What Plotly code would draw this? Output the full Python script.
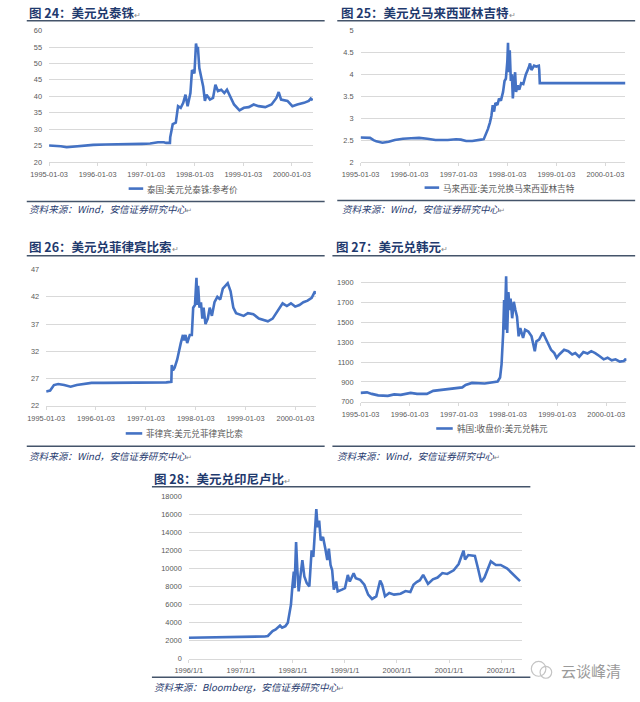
import plotly.graph_objects as go

W, H = 640, 702

# ---------------- data ----------------
thb_dates = ["1995-01-03", "1995-02-15", "1995-04-01", "1995-05-15", "1995-06-15", "1995-08-01",
             "1995-10-01", "1995-12-01", "1996-03-01", "1996-06-01", "1996-09-01", "1996-12-01",
             "1997-02-01", "1997-04-01", "1997-05-15", "1997-06-01", "1997-06-30", "1997-07-02",
             "1997-07-21", "1997-08-13", "1997-08-30", "1997-09-19", "1997-10-08", "1997-10-25",
             "1997-11-10", "1997-12-01", "1997-12-13", "1997-12-31", "1998-01-05", "1998-01-12",
             "1998-01-18", "1998-01-26", "1998-02-06", "1998-02-24", "1998-03-07", "1998-03-20",
             "1998-04-01", "1998-04-27", "1998-05-20", "1998-06-07", "1998-06-26", "1998-07-21",
             "1998-08-13", "1998-09-02", "1998-10-02", "1998-10-25", "1998-12-05", "1999-01-07",
             "1999-02-13", "1999-03-22", "1999-04-28", "1999-06-17", "1999-08-03", "1999-09-09",
             "1999-09-26", "1999-10-14", "1999-12-01", "2000-01-07", "2000-02-13", "2000-04-03",
             "2000-05-09", "2000-05-24", "2000-06-08"]
thb_values = [25.0, 25.0, 24.8, 24.5, 24.6, 24.8,
              25.1, 25.2, 25.3, 25.3, 25.3, 25.5,
              25.6, 26.0, 26.0, 25.8, 25.8, 27.5,
              31.5, 32.0, 37.0, 36.5, 38.0, 40.5,
              37.0, 41.0, 48.0, 47.0, 50.6, 56.1,
              54.6, 55.1, 48.6, 45.0, 43.0, 38.6,
              40.5, 39.0, 39.5, 43.5, 41.6, 42.0,
              41.0, 42.0, 39.5, 37.5, 35.7, 36.5,
              36.7, 37.5, 37.0, 36.7, 37.5, 39.5,
              41.3, 39.0, 38.6, 37.0, 37.5, 38.0,
              38.6, 39.3, 38.8]

myr_dates = ["1995-01-03", "1995-03-15", "1995-04-10", "1995-05-01", "1995-06-15", "1995-08-01",
             "1995-09-15", "1995-11-15", "1996-01-15", "1996-03-15", "1996-05-15", "1996-07-15",
             "1996-10-15", "1996-12-15", "1997-01-20", "1997-03-01", "1997-04-15", "1997-05-15",
             "1997-06-20", "1997-07-10", "1997-07-25", "1997-08-10", "1997-08-25", "1997-09-05",
             "1997-09-15", "1997-09-25", "1997-10-05", "1997-10-20", "1997-11-01", "1997-11-15",
             "1997-12-01", "1997-12-12", "1997-12-22", "1998-01-02", "1998-01-07", "1998-01-12",
             "1998-01-20", "1998-01-28", "1998-02-05", "1998-02-12", "1998-02-20", "1998-03-01",
             "1998-03-08", "1998-03-20", "1998-04-01", "1998-04-15", "1998-05-01", "1998-05-20",
             "1998-06-10", "1998-06-20", "1998-07-01", "1998-07-20", "1998-08-05", "1998-08-25",
             "1998-08-28", "1998-09-01", "2000-06-01"]
myr_values = [2.56, 2.55, 2.50, 2.47, 2.44, 2.46,
              2.50, 2.53, 2.54, 2.55, 2.53, 2.50,
              2.50, 2.52, 2.51, 2.48, 2.48, 2.50,
              2.51, 2.52, 2.62, 2.75, 2.90, 3.05,
              3.30, 3.15, 3.35, 3.30, 3.45, 3.40,
              3.60, 3.85, 3.90, 4.30, 4.72, 4.05,
              4.55, 3.85, 4.00, 3.45, 3.80, 4.05,
              3.60, 3.75, 3.65, 3.80, 3.78, 4.00,
              4.15, 4.25, 4.10, 4.20, 4.18, 4.20,
              4.10, 3.80, 3.80]

php_dates = ["1995-01-03", "1995-02-01", "1995-03-01", "1995-04-01", "1995-05-15", "1995-07-01",
             "1995-08-15", "1995-10-01", "1995-12-01", "1996-03-01", "1996-06-01", "1996-09-01",
             "1996-12-01", "1997-03-01", "1997-06-01", "1997-07-08", "1997-07-11", "1997-07-20",
             "1997-08-01", "1997-08-20", "1997-09-01", "1997-09-15", "1997-10-01", "1997-10-10",
             "1997-10-20", "1997-11-01", "1997-11-20", "1997-12-05", "1997-12-15", "1997-12-28",
             "1998-01-08", "1998-01-15", "1998-01-20", "1998-01-30", "1998-02-10", "1998-02-20",
             "1998-03-01", "1998-03-15", "1998-04-01", "1998-04-15", "1998-05-01", "1998-05-20",
             "1998-06-10", "1998-07-01", "1998-07-20", "1998-08-10", "1998-08-25", "1998-09-15",
             "1998-10-05", "1998-10-25", "1998-11-20", "1998-12-20", "1999-01-20", "1999-03-01",
             "1999-04-10", "1999-05-10", "1999-06-15", "1999-07-20", "1999-08-15", "1999-09-10",
             "1999-10-01", "1999-11-01", "1999-12-01", "2000-01-01", "2000-02-01", "2000-03-01",
             "2000-04-01", "2000-05-01", "2000-05-25", "2000-06-01"]
php_values = [24.6, 24.8, 25.8, 26.0, 25.8, 25.5,
              25.8, 26.0, 26.2, 26.2, 26.2, 26.2,
              26.2, 26.3, 26.3, 26.4, 29.5, 28.5,
              29.0, 30.5, 32.0, 33.5, 35.0, 34.0,
              35.0, 33.5, 35.0, 35.0, 40.0, 40.5,
              45.5, 40.5, 44.0, 40.0, 41.0, 38.0,
              40.0, 37.0, 38.0, 40.0, 38.5, 41.0,
              42.0, 41.5, 43.5, 44.0, 44.5, 43.0,
              40.0, 39.0, 38.8, 38.5, 39.0, 38.8,
              38.0, 37.8, 37.5, 38.0, 39.0, 40.0,
              40.8, 40.3, 40.8, 40.2, 40.5, 41.0,
              41.3, 41.8, 43.0, 42.5]

krw_dates = ["1995-01-03", "1995-02-20", "1995-03-27", "1995-05-14", "1995-07-25", "1995-09-10",
             "1995-10-29", "1996-01-10", "1996-02-27", "1996-05-10", "1996-06-26", "1996-09-07",
             "1996-11-19", "1997-01-28", "1997-02-22", "1997-04-10", "1997-07-14", "1997-10-18",
             "1997-11-05", "1997-11-16", "1997-11-28", "1997-12-05", "1997-12-09", "1997-12-20",
             "1997-12-28", "1998-01-06", "1998-01-15", "1998-01-22", "1998-02-03", "1998-02-15",
             "1998-02-27", "1998-03-11", "1998-03-23", "1998-04-04", "1998-04-25", "1998-05-10",
             "1998-06-03", "1998-06-27", "1998-07-21", "1998-08-02", "1998-08-22", "1998-09-19",
             "1998-10-08", "1998-11-02", "1998-11-19", "1998-12-13", "1998-12-30", "1999-01-19",
             "1999-02-24", "1999-03-27", "1999-04-25", "1999-05-18", "1999-06-16", "1999-07-17",
             "1999-08-17", "1999-09-14", "1999-10-13", "1999-11-13", "1999-12-15", "2000-01-13",
             "2000-02-13", "2000-03-12", "2000-04-13", "2000-05-12", "2000-05-27", "2000-06-01"]
krw_values = [790, 795, 780, 765, 760, 775,
              770, 790, 780, 780, 810, 820,
              830, 845, 870, 890, 885, 905,
              945, 1077, 1391, 1722, 1424, 1962,
              1391, 1804, 1622, 1738, 1540, 1705,
              1622, 1556, 1358, 1441, 1342, 1424,
              1407, 1358, 1209, 1308, 1325, 1397,
              1342, 1272, 1223, 1190, 1143, 1176,
              1223, 1209, 1176, 1190, 1153, 1200,
              1186, 1209, 1190, 1160, 1127, 1143,
              1117, 1127, 1104, 1110, 1133, 1110]

idr_dates = ["1996-01-01", "1996-04-01", "1996-08-01", "1996-12-01", "1997-03-01", "1997-06-17",
             "1997-07-09", "1997-08-11", "1997-09-02", "1997-10-02", "1997-10-17", "1997-11-09",
             "1997-11-26", "1997-12-09", "1997-12-18", "1997-12-28", "1998-01-07", "1998-01-12",
             "1998-01-23", "1998-02-01", "1998-02-10", "1998-02-22", "1998-03-08", "1998-03-22",
             "1998-04-08", "1998-04-26", "1998-05-12", "1998-05-24", "1998-06-04", "1998-06-14",
             "1998-06-23", "1998-07-04", "1998-07-15", "1998-07-31", "1998-08-16", "1998-08-30",
             "1998-09-10", "1998-09-22", "1998-10-03", "1998-10-15", "1998-10-31", "1998-11-11",
             "1998-12-11", "1999-01-01", "1999-01-21", "1999-02-04", "1999-03-03", "1999-03-18",
             "1999-04-18", "1999-05-17", "1999-06-13", "1999-07-10", "1999-08-09", "1999-09-05",
             "1999-09-19", "1999-10-09", "1999-11-08", "1999-12-12", "2000-01-26", "2000-03-01",
             "2000-04-04", "2000-04-26", "2000-05-18", "2000-06-10", "2000-07-03", "2000-08-06",
             "2000-09-09", "2000-10-12", "2000-11-15", "2000-12-19", "2001-02-02", "2001-03-09",
             "2001-04-12", "2001-04-23", "2001-05-16", "2001-07-01", "2001-07-23", "2001-08-14",
             "2001-09-06", "2001-09-29", "2001-10-21", "2001-11-25", "2001-12-29", "2002-02-13",
             "2002-03-19", "2002-04-21", "2002-05-14"]
idr_values = [2300, 2320, 2340, 2350, 2380, 2450,
              2500, 3050, 3230, 3670, 3420, 3600,
              3970, 5070, 5990, 8010, 9660, 7830,
              12950, 9840, 7460, 9110, 10940, 9110,
              8380, 8010, 12040, 11300, 14600, 16610,
              14600, 15330, 13130, 13500, 12220, 10940,
              12220, 10390, 9840, 7650, 8560, 7460,
              7650, 7830, 9290, 8560, 9480, 8930,
              8740, 8200, 7100, 6620, 6910, 8670,
              8200, 6910, 7280, 7100, 7200, 7500,
              7400, 8200, 8500, 8700, 9300, 8300,
              8800, 9000, 9500, 9400, 9800, 10500,
              12000, 11000, 11500, 11400, 10000, 8500,
              9000, 10000, 10800, 10400, 10400, 10000,
              9500, 9000, 8600]

asia_tick_dates = ["1995-01-03", "1996-01-03", "1997-01-03", "1998-01-03", "1999-01-03", "2000-01-03"]
asia_tick_text = ["1995-01-03", "1996-01-03", "1997-01-03", "1998-01-03", "1999-01-03", "2000-01-03"]
idr_tick_dates = ["1996-01-01", "1997-01-01", "1998-01-01", "1999-01-01", "2000-01-01", "2001-01-01", "2002-01-01"]
idr_tick_text = ["1996/1/1", "1997/1/1", "1998/1/1", "1999/1/1", "2000/1/1", "2001/1/1", "2002/1/1"]

thb_yticks = [20, 25, 30, 35, 40, 45, 50, 55, 60]
myr_yticks = [2, 2.5, 3, 3.5, 4, 4.5, 5]
php_yticks = [22, 27, 32, 37, 42, 47]
krw_yticks = [700, 900, 1100, 1300, 1500, 1700, 1900]
idr_yticks = [0, 2000, 4000, 6000, 8000, 10000, 12000, 14000, 16000, 18000]

titles = ["图 24：美元兑泰铢", "图 25：美元兑马来西亚林吉特", "图 26：美元兑菲律宾比索",
          "图 27：美元兑韩元", "图 28：美元兑印尼卢比"]
series_names = ["泰国:美元兑泰铢:参考价", "马来西亚:美元兑换马来西亚林吉特", "菲律宾:美元兑菲律宾比索",
                "韩国:收盘价:美元兑韩元", "印尼:美元兑印尼卢比"]
sources = ["资料来源：Wind，安信证券研究中心", "资料来源：Wind，安信证券研究中心",
           "资料来源：Wind，安信证券研究中心", "资料来源：Wind，安信证券研究中心",
           "资料来源：Bloomberg，安信证券研究中心"]

# ---------------- layout helpers ----------------
def fx(px):
    return px / W


def fy(py):
    return 1 - py / H


LINE_COLOR = "#4472C4"
TITLE_COLOR = "#1F3A6E"
RULE_COLOR = "#44546A"
GRID = "#D9D9D9"
TICK_FONT = dict(family="Liberation Sans, Arial, sans-serif", size=7.4, color="#595959")
CJK = "Noto Sans CJK SC, sans-serif"

panels = [
    dict(dates=thb_dates, values=thb_values, box=(31, 303, 27, 160), xr=["1995-01-03", "2000-06-10"],
         yr=[20, 60], yt=thb_yticks, xt=asia_tick_dates, xtt=asia_tick_text,
         title=(8, 9), rule_top=(8, 315, 17), rule_bot=(8, 315, 200), src=(8, 208),
         legend=(113, 128, 187)),
    dict(dates=myr_dates, values=myr_values, box=(352, 625, 27, 160), xr=["1995-01-03", "2000-06-01"],
         yr=[2, 5], yt=myr_yticks, xt=asia_tick_dates, xtt=asia_tick_text,
         title=(330, 9), rule_top=(328, 635, 17), rule_bot=(328, 635, 199), src=(331, 208),
         legend=(418, 433, 186)),
    dict(dates=php_dates, values=php_values, box=(28, 306, 269, 407), xr=["1995-01-03", "2000-06-01"],
         yr=[22, 47], yt=php_yticks, xt=asia_tick_dates, xtt=asia_tick_text,
         title=(8, 246), rule_top=(8, 315, 255), rule_bot=(8, 315, 448), src=(8, 458),
         legend=(110, 127, 435)),
    dict(dates=krw_dates, values=krw_values, box=(352, 626, 275, 403), xr=["1995-01-03", "2000-06-01"],
         yr=[700, 1970], yt=krw_yticks, xt=asia_tick_dates, xtt=asia_tick_text,
         title=(325, 246), rule_top=(323, 635, 255), rule_bot=(323, 635, 448), src=(326, 458),
         legend=(430, 447, 430)),
    dict(dates=idr_dates, values=idr_values, box=(175, 518, 499, 663), xr=["1996-01-01", "2002-05-25"],
         yr=[0, 18000], yt=idr_yticks, xt=idr_tick_dates, xtt=idr_tick_text,
         title=(137, 481), rule_top=(137, 527, 489), rule_bot=(137, 527, 682), src=(137, 692),
         legend=None),
]

fig = go.Figure()
shapes = []
annotations = []
layout = {}

for i, p in enumerate(panels):
    n = "" if i == 0 else str(i + 1)
    xa, ya = "x" + n, "y" + n
    fig.add_trace(go.Scatter(x=p["dates"], y=p["values"], mode="lines", name=series_names[i],
                             line=dict(color=LINE_COLOR, width=2.6), xaxis=xa, yaxis=ya,
                             showlegend=False, hoverinfo="x+y"))
    x0, x1, y0, y1 = p["box"]
    layout["xaxis" + n] = dict(
        domain=[fx(x0), fx(x1)], anchor=ya, type="date", range=p["xr"],
        tickvals=p["xt"], ticktext=p["xtt"], showgrid=False, zeroline=False,
        showline=True, linecolor=GRID, linewidth=1, ticks="outside", ticklen=3,
        tickcolor=GRID, tickfont=TICK_FONT, ticklabelstandoff=2, fixedrange=True)
    ydict = dict(
        domain=[fy(y1), fy(y0)], anchor=xa, range=p["yr"], tickvals=p["yt"],
        showgrid=True, gridcolor=GRID, gridwidth=1, zeroline=False, showline=False,
        ticks="", tickfont=TICK_FONT, ticklabelstandoff=6, fixedrange=True)
    if i == 4:
        ydict["tickformat"] = "d"
    layout["yaxis" + n] = ydict

    tx, ty = p["title"]
    annotations.append(dict(
        x=fx(tx), y=fy(ty), xref="paper", yref="paper", xanchor="left", yanchor="middle",
        showarrow=False,
        text="<b>" + titles[i] + "</b><span style='font-size:8px;color:#8a8a8a'>↵</span>",
        font=dict(family=CJK, size=12.5, color=TITLE_COLOR)))
    for (a, b, yy) in (p["rule_top"], p["rule_bot"]):
        shapes.append(dict(type="line", xref="paper", yref="paper", x0=fx(a), x1=fx(b),
                           y0=fy(yy), y1=fy(yy), line=dict(color=RULE_COLOR, width=1.6)))
    sx, sy = p["src"]
    annotations.append(dict(
        x=fx(sx), y=fy(sy), xref="paper", yref="paper", xanchor="left", yanchor="middle",
        showarrow=False,
        text="<i>" + sources[i] + "</i><span style='font-size:7px;color:#8a8a8a'>↵</span>",
        font=dict(family=CJK, size=9.6, color=TITLE_COLOR)))
    if p["legend"] is not None:
        la, lb, ly = p["legend"]
        shapes.append(dict(type="line", xref="paper", yref="paper", x0=fx(la), x1=fx(lb),
                           y0=fy(ly), y1=fy(ly), line=dict(color=LINE_COLOR, width=2.6)))
        annotations.append(dict(
            x=fx(lb + 2), y=fy(ly), xref="paper", yref="paper", xanchor="left", yanchor="middle",
            showarrow=False, text=series_names[i],
            font=dict(family=CJK, size=8.6, color="#595959")))

# watermark
shapes.append(dict(type="circle", xref="paper", yref="paper", x0=fx(528), x1=fx(543),
                   y0=fy(681), y1=fy(666), line=dict(color="#c4c4c4", width=1.2)))
shapes.append(dict(type="circle", xref="paper", yref="paper", x0=fx(537), x1=fx(549),
                   y0=fy(683), y1=fy(671), line=dict(color="#c4c4c4", width=1.2)))
annotations.append(dict(x=fx(557), y=fy(675), xref="paper", yref="paper", xanchor="left",
                        yanchor="middle", showarrow=False, text="云谈峰清",
                        font=dict(family=CJK, size=15, color="#9a9a9a")))

fig.update_layout(
    width=W, height=H, margin=dict(l=0, r=0, t=0, b=0), autosize=False,
    paper_bgcolor="white", plot_bgcolor="white", showlegend=False,
    shapes=shapes, annotations=annotations, **layout)

fig.write_html("out.html", config={"displayModeBar": False})
